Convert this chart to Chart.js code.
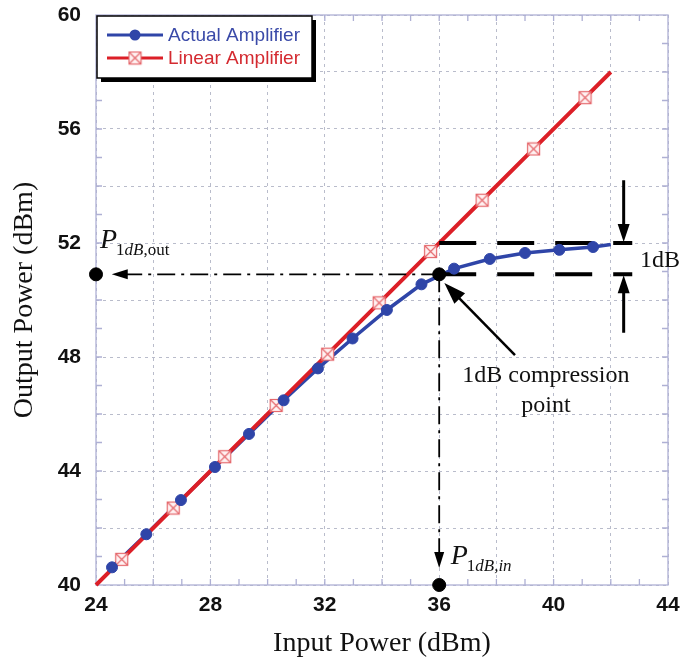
<!DOCTYPE html>
<html>
<head>
<meta charset="utf-8">
<script src="https://cdn.jsdelivr.net/npm/chart.js@4.4.1/dist/chart.umd.min.js"></script>
<style>
html, body { margin: 0; padding: 0; background: #fff; }
</style>
</head>
<body>
<canvas id="ampChart" width="682" height="663"></canvas>
<script>
// Actual amplifier (blue circles), last point is the line end without marker
const actualIn  = [24.56, 25.76, 26.97, 28.16, 29.35, 30.56, 31.76, 32.97, 34.17, 35.38, 36.52, 37.77, 39.0, 40.2, 41.38, 42.0];
const actualOut = [40.62, 41.78, 42.98, 44.14, 45.3, 46.48, 47.6, 48.65, 49.65, 50.55, 51.1, 51.44, 51.65, 51.76, 51.86, 51.95];

// Linear amplifier (red boxes), end points carry no marker
const linearIn  = [24, 24.9, 26.7, 28.5, 30.3, 32.1, 33.9, 35.7, 37.5, 39.3, 41.1, 42];
const linearOut = [40, 40.9, 42.7, 44.5, 46.3, 48.1, 49.9, 51.7, 53.5, 55.3, 57.1, 58];

const xLabels = [24, 28, 32, 36, 40, 44];
const yLabels = [40, 44, 48, 52, 56, 60];

// 1dB compression point annotation (data units)
const p1dbIn = 36;
const p1dbOut = 50.9;
const linearAtP1db = 52;
const dbMarkerX = 42.45;
const dashEndX = 42.75;

const BLUE = '#2f45a8';
const RED = '#dc1f27';
const tickFont = { family: "'Liberation Sans', Arial, sans-serif", size: 21, weight: 'bold' };
const serif = "'Liberation Serif', 'Times New Roman', serif";

const toPts = (xs, ys) => xs.map((x, i) => ({ x: x, y: ys[i] }));

// square-with-cross marker for the linear curve
function boxCross() {
    const c = document.createElement('canvas');
    c.width = 15; c.height = 15;
    const g = c.getContext('2d');
    g.fillStyle = '#fff3f3';
    g.fillRect(1.5, 1.5, 12, 12);
    g.strokeStyle = '#e5696d';
    g.lineWidth = 1.2;
    g.strokeRect(1.5, 1.5, 12, 12);
    g.beginPath();
    g.moveTo(1.5, 1.5); g.lineTo(13.5, 13.5);
    g.moveTo(13.5, 1.5); g.lineTo(1.5, 13.5);
    g.stroke();
    return c;
}
const boxMarker = boxCross();

function arrowHead(ctx, x, y, angle, len, half) {
    ctx.save();
    ctx.translate(x, y);
    ctx.rotate(angle);
    ctx.beginPath();
    ctx.moveTo(0, 0);
    ctx.lineTo(-len, -half);
    ctx.lineTo(-len, half);
    ctx.closePath();
    ctx.fill();
    ctx.restore();
}

// P with a mixed italic / upright subscript
function drawP(ctx, x, y, sub) {
    ctx.fillStyle = '#111';
    ctx.textBaseline = 'alphabetic';
    ctx.textAlign = 'left';
    ctx.font = 'italic 28px ' + serif;
    ctx.fillText('P', x, y);
    let cx = x + ctx.measureText('P').width - 1;
    sub.forEach(part => {
        ctx.font = (part.italic ? 'italic ' : '') + '17px ' + serif;
        ctx.fillText(part.t, cx, y + 7);
        cx += ctx.measureText(part.t).width;
    });
}

const framePlugin = {
    id: 'frame',
    beforeDatasetsDraw(chart) {
        const { ctx, chartArea: a, scales: { x, y } } = chart;
        ctx.save();
        ctx.strokeStyle = '#aeb0d4';
        ctx.lineWidth = 1.3;
        ctx.strokeRect(a.left, a.top, a.right - a.left, a.bottom - a.top);
        ctx.beginPath();
        for (let v = x.min + 1; v < x.max; v++) {
            const px = x.getPixelForValue(v);
            ctx.moveTo(px, a.bottom); ctx.lineTo(px, a.bottom - 6);
            ctx.moveTo(px, a.top); ctx.lineTo(px, a.top + 6);
        }
        for (let v = y.min + 1; v < y.max; v++) {
            const py = y.getPixelForValue(v);
            ctx.moveTo(a.left, py); ctx.lineTo(a.left + 6, py);
            ctx.moveTo(a.right, py); ctx.lineTo(a.right - 6, py);
        }
        ctx.stroke();
        ctx.restore();
    }
};

const notesPlugin = {
    id: 'notes',
    afterDatasetsDraw(chart) {
        const { ctx, scales: { x, y } } = chart;
        const X = v => x.getPixelForValue(v);
        const Y = v => y.getPixelForValue(v);
        ctx.save();
        ctx.fillStyle = '#000';
        ctx.strokeStyle = '#000';

        // arrow heads at the end of the dash-dot guides
        arrowHead(ctx, X(24.55), Y(p1dbOut), Math.PI, 16, 5);
        arrowHead(ctx, X(p1dbIn), Y(40.6), Math.PI / 2, 16, 5);

        // 1dB span arrows
        ctx.lineWidth = 3;
        ctx.beginPath();
        ctx.moveTo(X(dbMarkerX), Y(54.2)); ctx.lineTo(X(dbMarkerX), Y(linearAtP1db) - 14);
        ctx.moveTo(X(dbMarkerX), Y(48.85)); ctx.lineTo(X(dbMarkerX), Y(p1dbOut) + 14);
        ctx.stroke();
        arrowHead(ctx, X(dbMarkerX), Y(linearAtP1db) - 1, Math.PI / 2, 18, 6);
        arrowHead(ctx, X(dbMarkerX), Y(p1dbOut) + 1, -Math.PI / 2, 18, 6);

        // compression point pointer
        const tx = X(38.65), ty = Y(48.07), hx = X(36.18), hy = Y(50.6);
        const ang = Math.atan2(hy - ty, hx - tx);
        ctx.lineWidth = 2.5;
        ctx.beginPath();
        ctx.moveTo(tx, ty);
        ctx.lineTo(hx - Math.cos(ang) * 18, hy - Math.sin(ang) * 18);
        ctx.stroke();
        arrowHead(ctx, hx, hy, ang, 22, 7.5);

        // texts
        ctx.fillStyle = '#111';
        ctx.font = '24px ' + serif;
        ctx.textBaseline = 'alphabetic';
        ctx.textAlign = 'center';
        ctx.fillText('1dB compression', X(39.73), Y(47.12));
        ctx.fillText('point', X(39.73), Y(46.07));
        ctx.textAlign = 'left';
        ctx.fillText('1dB', X(43.02), Y(51.16));

        drawP(ctx, X(24.14), Y(51.82), [
            { t: '1', italic: false }, { t: 'dB', italic: true }, { t: ',out', italic: false }
        ]);
        drawP(ctx, X(36.4), Y(40.72), [
            { t: '1', italic: false }, { t: 'dB', italic: true }, { t: ',in', italic: true }
        ]);
        ctx.restore();
    },
    afterDraw(chart) {
        // legend box with drop shadow
        const ctx = chart.ctx;
        ctx.save();
        ctx.fillStyle = '#000';
        ctx.fillRect(101, 20, 215, 62);
        ctx.fillStyle = '#fff';
        ctx.fillRect(97, 16, 215, 62);
        ctx.strokeStyle = '#000';
        ctx.lineWidth = 1.5;
        ctx.strokeRect(97, 16, 215, 62);

        ctx.lineWidth = 3;
        ctx.strokeStyle = BLUE;
        ctx.beginPath(); ctx.moveTo(107, 35); ctx.lineTo(163, 35); ctx.stroke();
        ctx.fillStyle = BLUE;
        ctx.beginPath(); ctx.arc(135, 35, 5.5, 0, Math.PI * 2); ctx.fill();

        ctx.strokeStyle = RED;
        ctx.beginPath(); ctx.moveTo(107, 58); ctx.lineTo(163, 58); ctx.stroke();
        ctx.drawImage(boxMarker, 135 - 7.5, 58 - 7.5);

        ctx.font = "19px 'Liberation Sans', Arial, sans-serif";
        ctx.textBaseline = 'middle';
        ctx.textAlign = 'left';
        ctx.fillStyle = '#3a4aa8';
        ctx.fillText('Actual Amplifier', 168, 36);
        ctx.fillStyle = '#d42a30';
        ctx.fillText('Linear Amplifier', 168, 59);
        ctx.restore();
    }
};

const gridColor = ctx => {
    const v = ctx.tick ? ctx.tick.value : null;
    if (v === null || v % 2 !== 0) return 'rgba(0,0,0,0)';
    return '#b9bccb';
};

const actualPts = toPts(actualIn, actualOut);
const linearPts = toPts(linearIn, linearOut);

new Chart(document.getElementById('ampChart'), {
    type: 'scatter',
    data: {
        datasets: [
            {
                label: 'Key points',
                data: [{ x: p1dbIn, y: p1dbOut }, { x: 24, y: p1dbOut }, { x: p1dbIn, y: 40 }],
                showLine: false,
                pointRadius: 6.5,
                backgroundColor: '#000',
                borderColor: '#000',
                clip: false
            },
            {
                label: 'Blue markers',
                data: actualPts,
                showLine: false,
                pointRadius: actualPts.map((p, i) => i === actualPts.length - 1 ? 0 : 5.5),
                backgroundColor: BLUE,
                borderColor: BLUE,
                clip: false
            },
            {
                label: '1dB upper',
                data: [{ x: p1dbIn, y: linearAtP1db }, { x: dashEndX, y: linearAtP1db }],
                showLine: true,
                pointRadius: 0,
                borderColor: '#000',
                borderWidth: 4,
                borderDash: [37, 21],
                clip: false
            },
            {
                label: '1dB lower',
                data: [{ x: p1dbIn, y: p1dbOut }, { x: dashEndX, y: p1dbOut }],
                showLine: true,
                pointRadius: 0,
                borderColor: '#000',
                borderWidth: 4,
                borderDash: [37, 21],
                clip: false
            },
            {
                label: 'Pout guide',
                data: [{ x: p1dbIn, y: p1dbOut }, { x: 24.9, y: p1dbOut }],
                showLine: true,
                pointRadius: 0,
                borderColor: '#000',
                borderWidth: 1.8,
                borderDash: [18, 6, 3, 6],
                clip: false
            },
            {
                label: 'Pin guide',
                data: [{ x: p1dbIn, y: p1dbOut }, { x: p1dbIn, y: 41.0 }],
                showLine: true,
                pointRadius: 0,
                borderColor: '#000',
                borderWidth: 1.8,
                borderDash: [18, 6, 3, 6],
                clip: false
            },
            {
                label: 'Linear Amplifier',
                data: linearPts,
                showLine: true,
                borderColor: RED,
                borderWidth: 4,
                pointStyle: boxMarker,
                pointRadius: linearPts.map((p, i) => (i === 0 || i === linearPts.length - 1) ? 0 : 7),
                clip: false
            },
            {
                label: 'Actual Amplifier',
                data: actualPts,
                showLine: true,
                borderColor: BLUE,
                borderWidth: 3.5,
                pointRadius: 0,
                clip: false
            }
        ]
    },
    options: {
        responsive: false,
        animation: false,
        layout: { padding: { top: 15, right: 14, left: 0, bottom: 0 } },
        plugins: {
            legend: { display: false },
            tooltip: { enabled: false }
        },
        scales: {
            x: {
                type: 'linear',
                min: 24,
                max: 44,
                afterFit: s => { s.height = 78; s.paddingLeft = 0; s.paddingRight = 0; },
                ticks: {
                    stepSize: 1,
                    autoSkip: false,
                    maxRotation: 0,
                    padding: 8,
                    color: '#111',
                    font: tickFont,
                    callback: v => xLabels.includes(v) ? String(v) : ''
                },
                grid: { drawTicks: false, color: gridColor, lineWidth: 1 },
                border: { display: false, dash: [3, 4] },
                title: {
                    display: true,
                    text: 'Input Power (dBm)',
                    color: '#111',
                    font: { family: serif, size: 28 },
                    padding: { top: 0, bottom: 3 }
                }
            },
            y: {
                type: 'linear',
                min: 40,
                max: 60,
                afterFit: s => { s.width = 96; s.paddingTop = 0; s.paddingBottom = 0; },
                ticks: {
                    stepSize: 1,
                    autoSkip: false,
                    padding: 15,
                    color: '#111',
                    font: tickFont,
                    callback: v => yLabels.includes(v) ? String(v) : ''
                },
                grid: { drawTicks: false, color: gridColor, lineWidth: 1 },
                border: { display: false, dash: [3, 4] },
                title: {
                    display: true,
                    text: 'Output Power (dBm)',
                    color: '#111',
                    font: { family: serif, size: 28 },
                    padding: { top: 8, bottom: 0 }
                }
            }
        }
    },
    plugins: [framePlugin, notesPlugin]
});
</script>
</body>
</html>
